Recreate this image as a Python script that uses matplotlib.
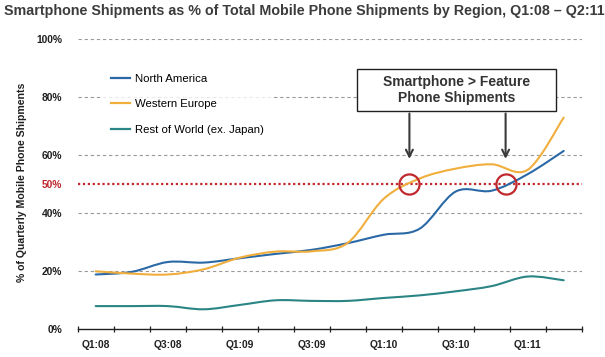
import numpy as np
import matplotlib
matplotlib.use('Agg')
import matplotlib.pyplot as plt
from matplotlib.path import Path
from matplotlib.patches import PathPatch
from matplotlib.lines import Line2D

quarters = ['Q1:08','Q2:08','Q3:08','Q4:08','Q1:09','Q2:09','Q3:09','Q4:09',
            'Q1:10','Q2:10','Q3:10','Q4:10','Q1:11','Q2:11']
north_america = [18.9, 19.8, 23.2, 23.0, 24.5, 26.0, 27.4, 29.7, 32.6, 34.7, 47.5, 47.8, 53.5, 61.5]
western_europe = [20.0, 19.2, 18.9, 20.7, 24.7, 26.8, 26.9, 29.8, 45.0, 52.0, 55.4, 56.9, 55.0, 73.0]
rest_of_world = [8.0, 8.0, 8.0, 6.9, 8.4, 10.0, 9.8, 9.8, 10.8, 11.7, 13.1, 14.9, 18.2, 16.9]
series_names = ['North America', 'Western Europe', 'Rest of World (ex. Japan)']
series_colors = ['#2b69a6', '#f0ae3c', '#2a8584']
yticks = [0, 20, 40, 60, 80, 100]
threshold = 50

W, H = 605, 357
fig = plt.figure(figsize=(W/100, H/100), dpi=100)
fig.patch.set_facecolor('white')

def fx(x): return x / W
def fy(y): return 1 - y / H

ax = fig.add_axes([fx(77.7), fy(329.3), fx(581.7) - fx(77.7), fy(39.3) - fy(329.3)])
ax.set_xlim(-0.5, len(quarters) - 0.5)
ax.set_ylim(0, 100)

def smooth_path(xs, ys):
    # catmull-rom style bezier through the quarterly points (like excel smoothed lines)
    pts = np.column_stack([xs, ys]).astype(float)
    verts = [pts[0]]
    codes = [Path.MOVETO]
    n = len(pts)
    for i in range(n - 1):
        p0 = pts[max(i - 1, 0)]
        p1 = pts[i]
        p2 = pts[i + 1]
        p3 = pts[min(i + 2, n - 1)]
        verts += [p1 + (p2 - p0) / 6, p2 - (p3 - p1) / 6, p2]
        codes += [Path.CURVE4] * 3
    return Path(verts, codes)

# gridlines
for v in [20, 40, 60, 80, 100]:
    ax.axhline(v, color='#9a9a9a', lw=0.8, ls=(0, (3, 2.5)), zorder=1)
ax.axhline(threshold, color='#c0282d', lw=1.6, ls=(0, (1, 1.2)), zorder=1, xmax=1.002)

x = np.arange(len(quarters))
handles = []
for vals, name, col in zip([north_america, western_europe, rest_of_world], series_names, series_colors):
    ax.add_patch(PathPatch(smooth_path(x, vals), fill=False, edgecolor=col, lw=1.5, zorder=3, capstyle='round'))
    handles.append(Line2D([], [], color=col, lw=1.6))

# crossing points of 50%
def crossing(vals, level):
    for i in range(len(vals) - 1):
        if vals[i] < level <= vals[i + 1]:
            return i + (level - vals[i]) / (vals[i + 1] - vals[i])
we_cross = crossing(western_europe, threshold)
na_cross = crossing(north_america, threshold)
ax.plot([we_cross, na_cross], [threshold, threshold], 'o', ms=14.5, mfc='none', mec='#c0282d', mew=1.6, zorder=5)

# spines / ticks
for s in ['top', 'right', 'left']:
    ax.spines[s].set_visible(False)
ax.spines['bottom'].set_color('#202020')
ax.spines['bottom'].set_linewidth(1.0)
ax.set_xticks(np.arange(-0.5, len(quarters), 1), minor=True)
ax.set_xticks(x[::2])
ax.set_xticklabels(quarters[::2], fontsize=7.4, fontweight='bold', color='#202020')
ax.tick_params(axis='x', which='major', length=0, pad=8)
ax.tick_params(axis='x', which='minor', length=4, width=0.9, color='#202020', direction='inout')
ax.set_yticks(yticks + [threshold])
ax.set_yticklabels([f'{v}%' for v in yticks] + [f'{threshold}%'], fontsize=7.4, fontweight='bold', color='#202020')
ax.get_yticklabels()[-1].set_color('#c0282d')
ax.tick_params(axis='y', length=0, pad=11)

fig.text(fx(22.5), fy(182.5), '% of Quarterly Mobile Phone Shipments', rotation=90, ha='center', va='center',
         fontsize=7.6, fontweight='bold', color='#202020', family='Liberation Sans')

fig.text(fx(4), fy(10.5), 'Smartphone Shipments as % of Total Mobile Phone Shipments by Region, Q1:08 \u2013 Q2:11',
         ha='left', va='center', fontsize=10.3, fontweight='bold', color='#3c3c3c', family='Liberation Sans')

leg = ax.legend(handles, series_names, loc='upper left', bbox_to_anchor=(fx(100.5), fy(63.5)),
                bbox_transform=fig.transFigure, borderaxespad=0, borderpad=0.9, frameon=True,
                prop={'family': 'Liberation Sans', 'size': 8.2}, handlelength=1.7, handletextpad=0.44,
                labelspacing=1.38, fancybox=False)
leg.get_frame().set_facecolor('white')
leg.get_frame().set_edgecolor('none')
leg.set_zorder(4)

# annotation box + arrows
fig.text(fx(456.7), fy(90), 'Smartphone > Feature\nPhone Shipments', ha='center', va='center',
         fontsize=10, fontweight='bold', color='#333333', family='Liberation Sans', linespacing=1.25,
         zorder=6)
box = plt.Rectangle((fx(357), fy(110.7)), fx(556) - fx(357), fy(69.3) - fy(110.7), transform=fig.transFigure,
                    facecolor='white', edgecolor='#202020', lw=1.0, zorder=5)
fig.patches.append(box)
for cx in [we_cross, na_cross]:
    xpix = ax.transData.transform((cx, threshold))[0]
    ax.annotate('', xy=(fx(xpix), fy(161.7)), xytext=(fx(xpix), fy(110.7)),
                xycoords='figure fraction', textcoords='figure fraction',
                arrowprops=dict(arrowstyle='->,head_length=0.5,head_width=0.25', color='#3a3a3a', lw=1.5))

for t in ax.get_xticklabels() + ax.get_yticklabels():
    t.set_family('Liberation Sans')

fig.savefig('out.png', dpi=100, facecolor='white')
